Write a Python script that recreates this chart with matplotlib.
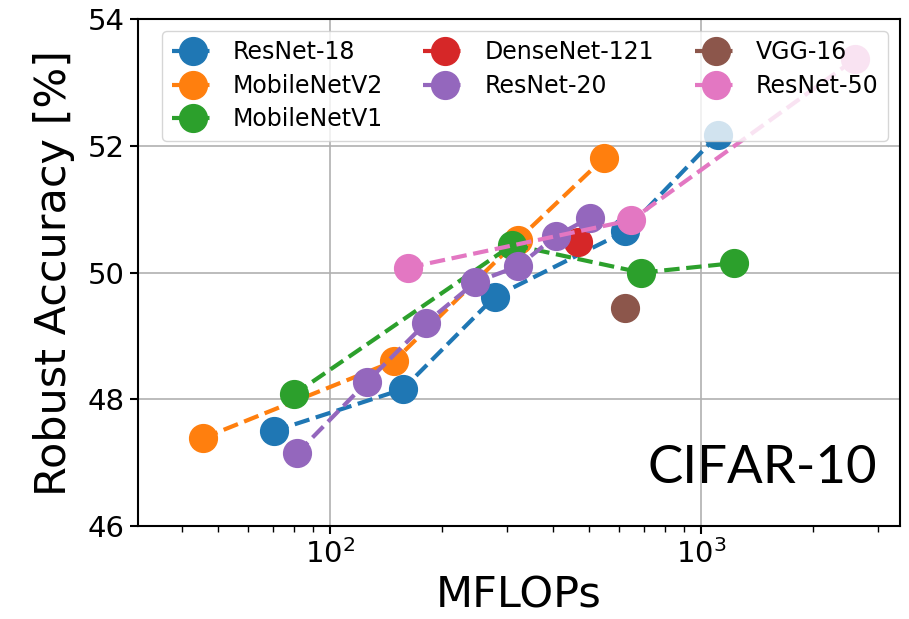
import matplotlib
matplotlib.use("Agg")
import matplotlib.pyplot as plt

resnet18_x = [70.5, 157, 278, 624, 1110]
resnet18_y = [47.50, 48.16, 49.62, 50.65, 52.17]
mobilenetv2_x = [45.5, 148.5, 321, 548]
mobilenetv2_y = [47.39, 48.60, 50.52, 51.81]
mobilenetv1_x = [80, 310, 691, 1224]
mobilenetv1_y = [48.08, 50.44, 50.00, 50.15]
densenet121_x = [465]
densenet121_y = [50.49]
resnet20_x = [81.5, 126, 181.5, 246.6, 321, 407, 503]
resnet20_y = [47.15, 48.28, 49.21, 49.85, 50.10, 50.58, 50.87]
vgg16_x = [625]
vgg16_y = [49.44]
resnet50_x = [162.6, 649, 2600]
resnet50_y = [50.08, 50.83, 53.37]

series = [
    ("ResNet-18", resnet18_x, resnet18_y, "#1f77b4"),
    ("MobileNetV2", mobilenetv2_x, mobilenetv2_y, "#ff7f0e"),
    ("MobileNetV1", mobilenetv1_x, mobilenetv1_y, "#2ca02c"),
    ("DenseNet-121", densenet121_x, densenet121_y, "#d62728"),
    ("ResNet-20", resnet20_x, resnet20_y, "#9467bd"),
    ("VGG-16", vgg16_x, vgg16_y, "#8c564b"),
    ("ResNet-50", resnet50_x, resnet50_y, "#e377c2"),
]

fig = plt.figure(figsize=(9.09, 6.19), dpi=100)
ax = fig.add_axes([0.152, 0.150, 0.838, 0.819])

for name, xs, ys, c in series:
    ax.plot(xs, ys, linestyle="--", marker="o", markersize=20, linewidth=3,
            color=c, label=name)

ax.set_xscale("log")
ax.set_xlim(30.4, 3436)
ax.set_ylim(46, 54)
ax.set_yticks([46, 48, 50, 52, 54])
ax.grid(True, which="major", color="#b0b0b0", linewidth=1.2)
ax.tick_params(axis="both", which="major", labelsize=21, length=6, width=1.5)
ax.tick_params(axis="x", which="minor", length=4, width=1)
for s in ax.spines.values():
    s.set_linewidth(1.5)

ax.set_xlabel("MFLOPs", fontsize=31, labelpad=4)
ax.set_ylabel("Robust Accuracy [%]", fontsize=31, labelpad=9)

ax.text(0.97, 0.085, "CIFAR-10", transform=ax.transAxes, ha="right", va="baseline",
        fontsize=38, family=["Lato", "DejaVu Sans"])

ax.legend(loc="upper right", ncol=3, fontsize=17, markerscale=1.0,
          columnspacing=1.7, handlelength=1.8,
          labelspacing=0.4, handletextpad=0.8)

fig.savefig("out.png", dpi=100)
